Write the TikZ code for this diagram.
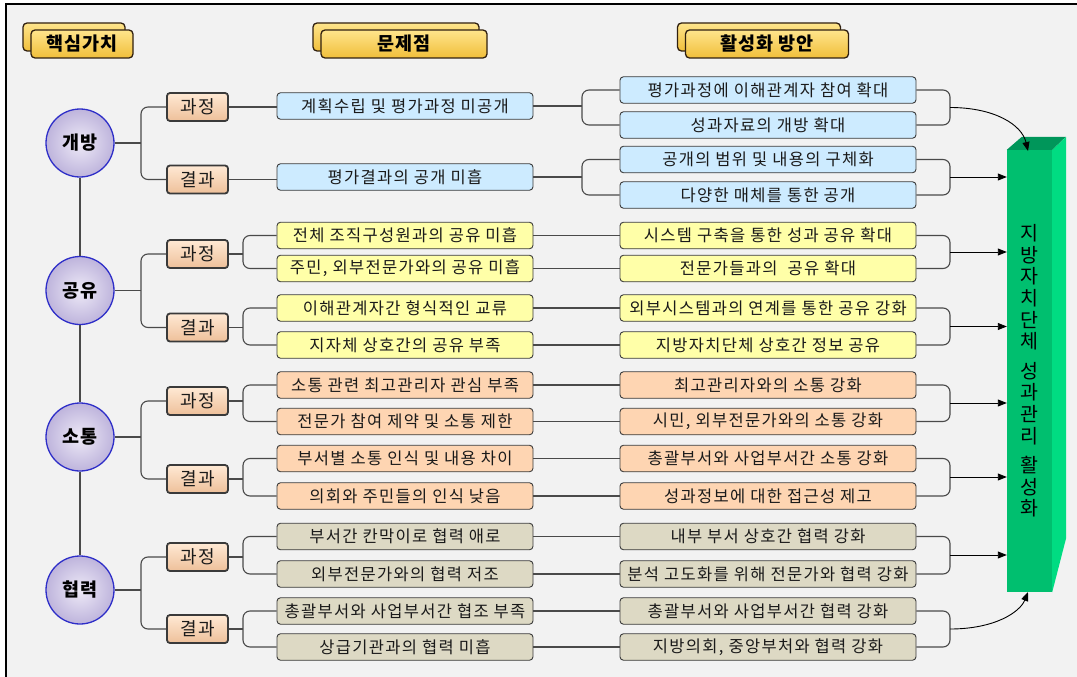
\documentclass[tikz,border=0pt]{standalone}
\usepackage{fontspec}
\setmainfont{Noto Sans CJK KR}
\newfontfamily\boxfont{Noto Sans CJK KR}[LetterSpace=8]
\newfontfamily\hfont{Noto Sans CJK KR}[LetterSpace=6]
\usetikzlibrary{arrows.meta}
\definecolor{bgc}{HTML}{F2F2F2}
\definecolor{cblue}{HTML}{CDEBFF}
\definecolor{cyel}{HTML}{FFFFA8}
\definecolor{cpeach}{HTML}{FED5B2}
\definecolor{ctan}{HTML}{DDD9C4}
\definecolor{lineg}{HTML}{4A4A4A}
\definecolor{boxline}{HTML}{3A3A3A}
\definecolor{txt}{HTML}{1A1A1A}
\definecolor{gfront}{HTML}{00BF6F}
\definecolor{gright}{HTML}{00DC82}
\definecolor{gtop}{HTML}{00965A}
\definecolor{rimblue}{HTML}{2E2EC8}
\definecolor{goldtop}{HTML}{FFE58C}
\definecolor{goldbot}{HTML}{F0BE3A}
\definecolor{lavin}{HTML}{EEEAF7}
\definecolor{lavout}{HTML}{BEB4DC}
\definecolor{peachtop}{HTML}{FFE9D4}
\definecolor{peachbot}{HTML}{EEC09A}
\tikzset{
  box/.style={draw=boxline, line width=0.9, rounded corners=3.5, minimum height=26.5, inner sep=0pt, text=txt, font=\boxfont\fontsize{16.5}{19}\selectfont},
  prob/.style={box, minimum width=256},
  sol/.style={box, minimum width=296},
  fb/.style={fill=cblue}, fy/.style={fill=cyel}, fp/.style={fill=cpeach}, ft/.style={fill=ctan},
  cat/.style={draw=boxline, line width=1.8, rounded corners=3, minimum width=61, minimum height=28, inner sep=0pt, top color=peachtop, bottom color=peachbot, text=txt, font=\boxfont\fontsize{18}{21}\selectfont},
  hdr/.style={draw=black!75!brown, line width=1.3, rounded corners=4, minimum height=28, inner sep=0pt, top color=goldtop, bottom color=goldbot, font=\hfont\bfseries\fontsize{18.5}{21}\selectfont},
  ball/.style={circle, draw=rimblue, line width=1.3, minimum size=68, inner sep=0pt, inner color=lavin, outer color=lavout, font=\hfont\bfseries\fontsize{18.5}{21}\selectfont},
  conn/.style={draw=lineg, line width=1.1},
  brk/.style={conn, rounded corners=7},
  arr/.style={draw=black, line width=0.9, -{Triangle[length=9pt,width=7pt]}}
}
\begin{document}
\begin{tikzpicture}[x=1pt,y=-1pt]
\useasboundingbox (0,0) rectangle (1077,677);
\fill[white] (0,0) rectangle (1077,677);
\fill[bgc] (6,4) rectangle (1077,677);
\draw[black, line width=1.2] (6,677) -- (6,4) -- (1077,4);

% headers
\node[hdr, minimum width=102] (h1b) at (74,37) {};
\node[hdr, minimum width=102] (h1) at (82,44) {핵심가치};
\node[hdr, minimum width=166] (h2b) at (396,37) {};
\node[hdr, minimum width=166] (h2) at (404,44) {문제점};
\node[hdr, minimum width=163] (h3b) at (759,37) {};
\node[hdr, minimum width=163] (h3) at (767,44) {활성화 방안};

% core values
\node[ball] (c1) at (80,143) {개방};
\node[ball] (c2) at (80,290.5) {공유};
\node[ball] (c3) at (80,437) {소통};
\node[ball] (c4) at (80,590) {협력};
\draw[conn] (c1.south) -- (c2.north);
\draw[conn] (c2.south) -- (c3.north);
\draw[conn] (c3.south) -- (c4.north);

% categories
\node[cat] (k1a) at (197.5,107) {과정};
\node[cat] (k1b) at (197.5,179.5) {결과};
\node[cat] (k2a) at (197.5,254) {과정};
\node[cat] (k2b) at (197.5,327.5) {결과};
\node[cat] (k3a) at (197.5,401) {과정};
\node[cat] (k3b) at (197.5,479) {결과};
\node[cat] (k4a) at (197.5,557) {과정};
\node[cat] (k4b) at (197.5,629) {결과};

% problems
\node[prob,fb] (p1) at (405,106) {계획수립 및 평가과정 미공개};
\node[prob,fb] (p2) at (405,177) {평가결과의 공개 미흡};
\node[prob,fy] (p3) at (405,235.5) {전체 조직구성원과의 공유 미흡};
\node[prob,fy] (p4) at (405,268.5) {주민, 외부전문가와의 공유 미흡};
\node[prob,fy] (p5) at (405,308) {이해관계자간 형식적인 교류};
\node[prob,fy] (p6) at (405,345) {지자체 상호간의 공유 부족};
\node[prob,fp] (p7) at (405,385) {소통 관련 최고관리자 관심 부족};
\node[prob,fp] (p8) at (405,421.5) {전문가 참여 제약 및 소통 제한};
\node[prob,fp] (p9) at (405,458.5) {부서별 소통 인식 및 내용 차이};
\node[prob,fp] (p10) at (405,496) {의회와 주민들의 인식 낮음};
\node[prob,ft] (p11) at (405,536.5) {부서간 칸막이로 협력 애로};
\node[prob,ft] (p12) at (405,574) {외부전문가와의 협력 저조};
\node[prob,ft] (p13) at (405,611) {총괄부서와 사업부서간 협조 부족};
\node[prob,ft] (p14) at (405,647) {상급기관과의 협력 미흡};

% solutions
\node[sol,fb] (s1) at (768,90) {평가과정에 이해관계자 참여 확대};
\node[sol,fb] (s2) at (768,125) {성과자료의 개방 확대};
\node[sol,fb] (s3) at (768,159.5) {공개의 범위 및 내용의 구체화};
\node[sol,fb] (s4) at (768,195) {다양한 매체를 통한 공개};
\node[sol,fy] (s5) at (768,235.5) {시스템 구축을 통한 성과 공유 확대};
\node[sol,fy] (s6) at (768,268.5) {전문가들과의 \ 공유 확대};
\node[sol,fy] (s7) at (768,308) {외부시스템과의 연계를 통한 공유 강화};
\node[sol,fy] (s8) at (768,345) {지방자치단체 상호간 정보 공유};
\node[sol,fp] (s9) at (768,385) {최고관리자와의 소통 강화};
\node[sol,fp] (s10) at (768,421.5) {시민, 외부전문가와의 소통 강화};
\node[sol,fp] (s11) at (768,458.5) {총괄부서와 사업부서간 소통 강화};
\node[sol,fp] (s12) at (768,496) {성과정보에 대한 접근성 제고};
\node[sol,ft] (s13) at (768,536.5) {내부 부서 상호간 협력 강화};
\node[sol,ft] (s14) at (768,574) {분석 고도화를 위해 전문가와 협력 강화};
\node[sol,ft] (s15) at (768,611) {총괄부서와 사업부서간 협력 강화};
\node[sol,ft] (s16) at (768,647) {지방의회, 중앙부처와 협력 강화};

% circle -> categories
\coordinate (j1) at (141,143);
\coordinate (j2) at (141,290.5);
\coordinate (j3) at (141,437);
\coordinate (j4) at (141,590);
\draw[conn] (c1.east) -- (j1);
\draw[conn] (c2.east) -- (j2);
\draw[conn] (c3.east) -- (j3);
\draw[conn] (c4.east) -- (j4);
\draw[brk] (k1a.west) -| (j1) |- (k1b.west);
\draw[brk] (k2a.west) -| (j2) |- (k2b.west);
\draw[brk] (k3a.west) -| (j3) |- (k3b.west);
\draw[brk] (k4a.west) -| (j4) |- (k4b.west);

% categories -> problems
\draw[conn] (k1a.east) -- (k1a.east -| p1.west);
\draw[conn] (k1b.east) -- (k1b.east -| p2.west);
\coordinate (q2a) at (243,254);
\coordinate (q2b) at (243,327.5);
\coordinate (q3a) at (243,401);
\coordinate (q3b) at (243,479);
\coordinate (q4a) at (243,557);
\coordinate (q4b) at (243,629);
\draw[conn] (k2a.east) -- (q2a);
\draw[conn] (k2b.east) -- (q2b);
\draw[conn] (k3a.east) -- (q3a);
\draw[conn] (k3b.east) -- (q3b);
\draw[conn] (k4a.east) -- (q4a);
\draw[conn] (k4b.east) -- (q4b);
\draw[brk] (p3.west) -| (q2a) |- (p4.west);
\draw[brk] (p5.west) -| (q2b) |- (p6.west);
\draw[brk] (p7.west) -| (q3a) |- (p8.west);
\draw[brk] (p9.west) -| (q3b) |- (p10.west);
\draw[brk] (p11.west) -| (q4a) |- (p12.west);
\draw[brk] (p13.west) -| (q4b) |- (p14.west);

% problems -> solutions
\coordinate (m1) at (582,106);
\coordinate (m2) at (582,177);
\draw[conn] (p1.east) -- (m1);
\draw[conn] (p2.east) -- (m2);
\draw[brk] (s1.west) -| (m1) |- (s2.west);
\draw[brk] (s3.west) -| (m2) |- (s4.west);
\foreach \a/\b in {p3/s5,p4/s6,p5/s7,p6/s8,p7/s9,p8/s10,p9/s11,p10/s12,p11/s13,p12/s14,p13/s15,p14/s16}
  \draw[conn] (\a.east) -- (\a.east -| \b.west);

% green bar
\node[fill=gfront, minimum width=45, minimum height=442, inner sep=0pt] (bar) at (1029.5,371) {};
\fill[gright] (bar.north east) -- ++(14,-13) -- ++(0,401) -- (bar.south east) -- cycle;
\fill[gtop] (bar.north west) -- ++(15,-13) -- ++(44,0) -- (bar.north east) -- cycle;
\node[align=center, text=black, font=\fontsize{19.5}{21.6}\selectfont] (bartext) at (1029,371)
  {지\\방\\자\\치\\단\\체\\[8pt]성\\과\\관\\리\\[8pt]활\\성\\화};

% solutions -> bar
\coordinate (r1) at (950,107.5);
\coordinate (r2) at (950,177);
\coordinate (r3) at (950,252);
\coordinate (r4) at (950,326.5);
\coordinate (r5) at (950,403);
\coordinate (r6) at (950,477);
\coordinate (r7) at (950,555);
\coordinate (r8) at (950,629);
\draw[brk] (s1.east) -| (r1) |- (s2.east);
\draw[brk] (s3.east) -| (r2) |- (s4.east);
\draw[brk] (s5.east) -| (r3) |- (s6.east);
\draw[brk] (s7.east) -| (r4) |- (s8.east);
\draw[brk] (s9.east) -| (r5) |- (s10.east);
\draw[brk] (s11.east) -| (r6) |- (s12.east);
\draw[brk] (s13.east) -| (r7) |- (s14.east);
\draw[brk] (s15.east) -| (r8) |- (s16.east);
\coordinate (btop) at (1028,151);
\coordinate (bbot) at (1028,592);
\draw[arr] (r1) .. controls (995,107.5) and (1022,125) .. (btop);
\draw[arr] (r8) .. controls (995,629) and (1020,612) .. (bbot);
\foreach \r in {r2,r3,r4,r5,r6,r7}
  \draw[arr] (\r) -- (\r -| bar.west);
\end{tikzpicture}
\end{document}
